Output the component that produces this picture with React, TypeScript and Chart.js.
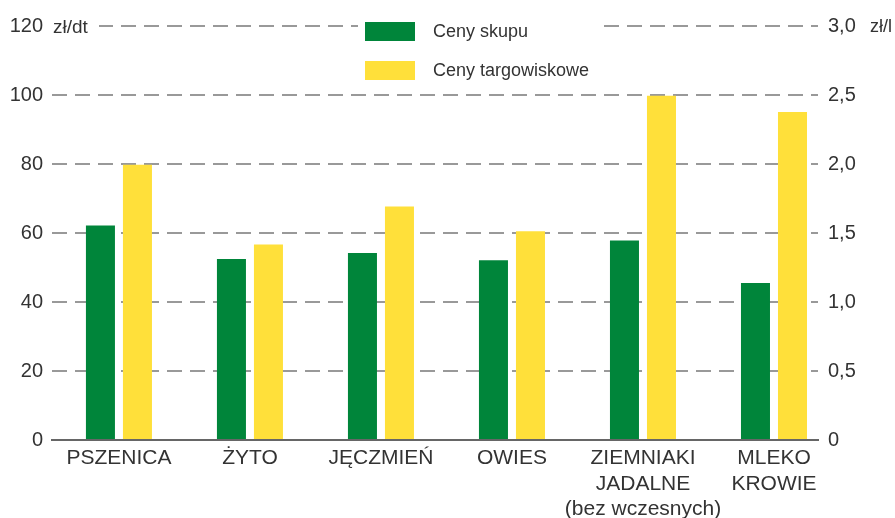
import React, { useEffect, useRef } from "react";
import { Chart, registerables } from "chart.js";

Chart.register(...registerables);

const categories: string[][] = [
  ["PSZENICA"],
  ["ŻYTO"],
  ["JĘCZMIEŃ"],
  ["OWIES"],
  ["ZIEMNIAKI", "JADALNE", "(bez wczesnych)"],
  ["MLEKO", "KROWIE"],
];
const seriesNames = ["Ceny skupu", "Ceny targowiskowe"];
const cenySkupu = [62.2, 52.5, 54.2, 52.1, 57.8, 45.5];
const cenyTargowiskowe = [79.8, 56.7, 67.7, 60.5, 99.8, 95.1];
const leftTicks = [0, 20, 40, 60, 80, 100, 120];
const rightTicks = ["0", "0,5", "1,0", "1,5", "2,0", "2,5", "3,0"];
const leftUnit = "zł/dt";
const rightUnit = "zł/l";

const GREEN = "#00853a";
const YELLOW = "#ffe03a";
const TEXT = "#333333";
const FONT = "'Liberation Sans', Arial, sans-serif";

export default function App() {
  const ref = useRef<HTMLCanvasElement | null>(null);

  useEffect(() => {
    document.body.style.margin = "0";
    const canvas = ref.current!;
    const overlay = {
      id: "overlay",
      afterDraw(chart: any) {
        const ctx = chart.ctx;
        const area = chart.chartArea;
        const yTop = chart.scales.y.getPixelForValue(120);
        ctx.save();
        // left unit
        ctx.fillStyle = "#fff";
        ctx.fillRect(area.left, yTop - 4, 47, 8);
        ctx.font = `19px ${FONT}`;
        ctx.fillStyle = TEXT;
        ctx.textBaseline = "middle";
        ctx.textAlign = "left";
        ctx.fillText(leftUnit, area.left + 1, yTop + 2);
        // right unit
        ctx.font = `18px ${FONT}`;
        ctx.fillText(rightUnit, area.right + 52, yTop + 1);
        // legend
        ctx.fillStyle = "#fff";
        ctx.fillRect(358, 10, 245, 76);
        const colors = [GREEN, YELLOW];
        seriesNames.forEach((name, i) => {
          const cy = 31 + i * 39;
          ctx.fillStyle = colors[i];
          ctx.fillRect(365, cy - 9, 50, 19);
          ctx.fillStyle = TEXT;
          ctx.font = `18px ${FONT}`;
          ctx.fillText(name, 433, cy + 1);
        });
        ctx.restore();
      },
    };

    const chart = new Chart(canvas, {
      type: "bar",
      data: {
        datasets: [
          {
            label: seriesNames[0],
            data: cenySkupu.map((v, i) => ({ x: i, y: v })),
            backgroundColor: GREEN,
            categoryPercentage: 0.565,
            barPercentage: 0.784,
          },
          {
            label: seriesNames[1],
            data: cenyTargowiskowe.map((v, i) => ({ x: i, y: v })),
            backgroundColor: YELLOW,
            categoryPercentage: 0.565,
            barPercentage: 0.784,
          },
        ],
      },
      options: {
        animation: false,
        responsive: false,
        maintainAspectRatio: false,
        layout: { padding: { top: 26, bottom: 0, left: 0, right: 0 } },
        plugins: { legend: { display: false }, tooltip: { enabled: false } },
        scales: {
          x: {
            type: "linear",
            offset: false,
            min: -0.511,
            max: 5.336,
            grid: { display: false, drawTicks: false, offset: false },
            border: { display: true, color: "#666", width: 2 },
            afterBuildTicks: (scale: any) => {
              scale.ticks = categories.map((_, i) => ({ value: i }));
            },
            afterFit: (scale: any) => {
              scale.height = 78;
            },
            ticks: {
              autoSkip: false,
              maxRotation: 0,
              padding: 6,
              color: TEXT,
              font: { family: FONT, size: 21, lineHeight: 1.2 },
              callback: (v: any) => categories[Number(v)] ?? "",
            },
          },
          y: {
            position: "left",
            min: 0,
            max: 120,
            afterBuildTicks: (scale: any) => {
              scale.ticks = leftTicks.map((v) => ({ value: v }));
            },
            afterFit: (scale: any) => {
              scale.width = 52;
            },
            grid: {
              drawTicks: false,
              lineWidth: 2,
              color: (c: any) => (c.tick && c.tick.value === 0 ? "rgba(0,0,0,0)" : "#999999"),
            },
            border: { display: false, dash: [15, 8] },
            ticks: {
              padding: 9,
              color: TEXT,
              font: { family: FONT, size: 20 },
              callback: (v: any) => String(v),
            },
          },
          y2: {
            position: "right",
            min: 0,
            max: 3,
            afterBuildTicks: (scale: any) => {
              scale.ticks = rightTicks.map((_, i) => ({ value: i * 0.5 }));
            },
            afterFit: (scale: any) => {
              scale.width = 77;
            },
            grid: { display: false, drawTicks: false },
            border: { display: false },
            ticks: {
              padding: 10,
              color: TEXT,
              font: { family: FONT, size: 20 },
              callback: (v: any) => rightTicks[Math.round(Number(v) * 2)] ?? "",
            },
          },
        },
      },
      plugins: [overlay],
    } as any);
    return () => chart.destroy();
  }, []);

  return (
    <div style={{ width: 895, height: 518, background: "#fff" }}>
      <canvas ref={ref} width={895} height={518} style={{ display: "block" }} />
    </div>
  );
}
